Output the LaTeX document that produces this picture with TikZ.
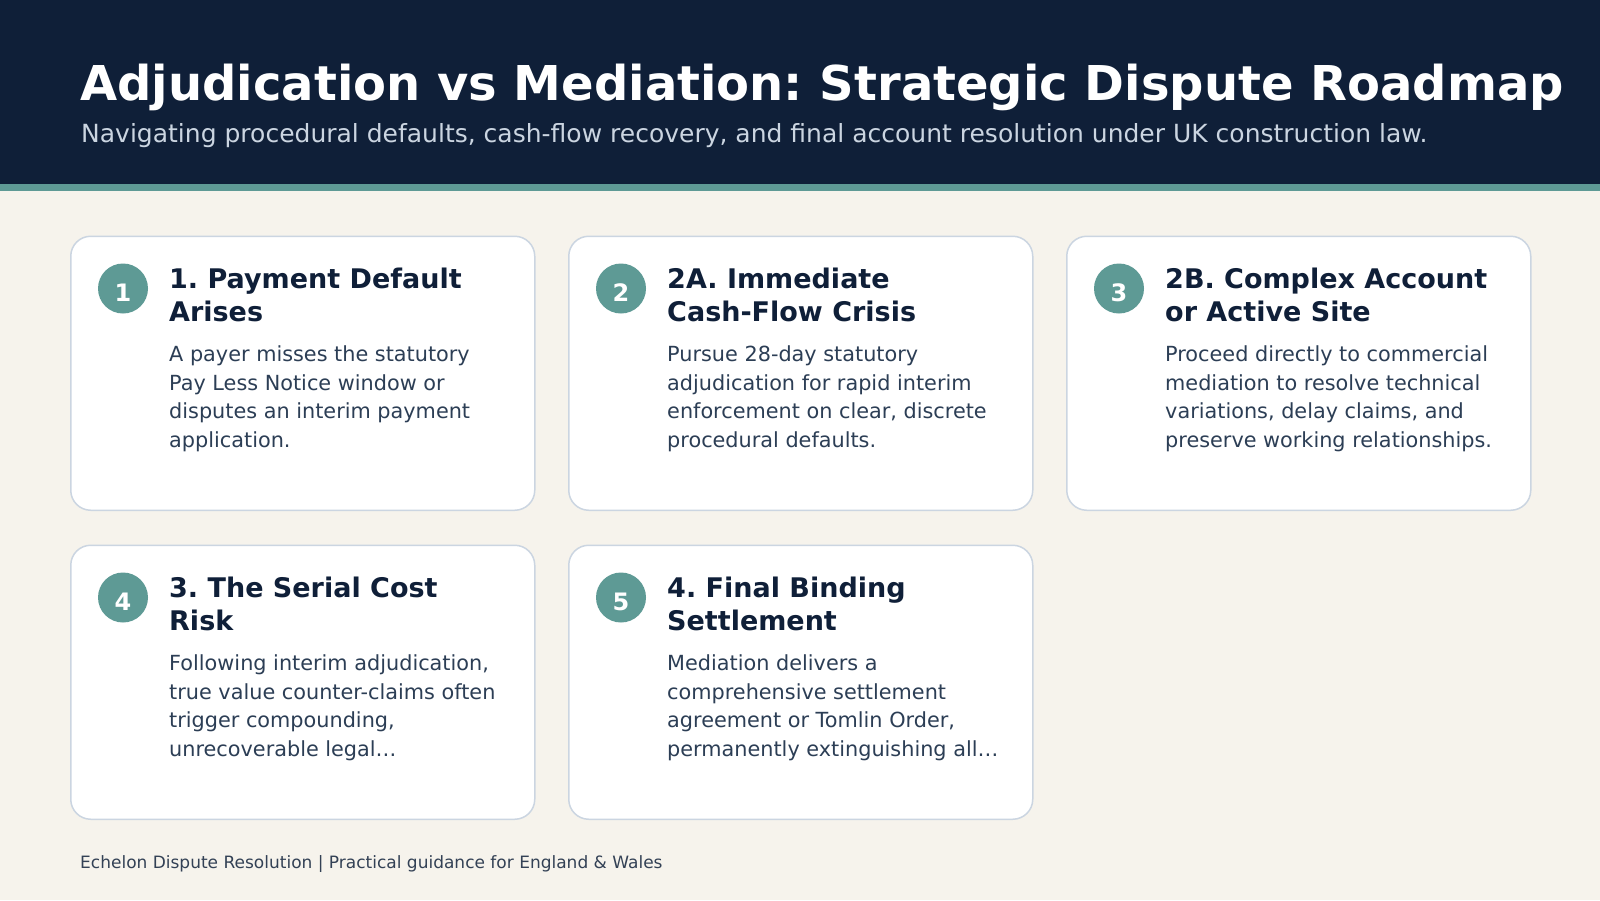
\documentclass[tikz,border=0pt]{standalone}
\usepackage{fontspec}
\setmainfont{DejaVu Sans}
\usetikzlibrary{positioning}

\definecolor{navy}{HTML}{0F1F38}
\definecolor{teal}{HTML}{5E9A95}
\definecolor{cream}{HTML}{F6F3EC}
\definecolor{cardline}{HTML}{CBD5E1}
\definecolor{subtext}{HTML}{CBD5E1}
\definecolor{slate}{HTML}{2C3E55}
\definecolor{foottext}{HTML}{334155}

\begin{document}
\frenchspacing
\begin{tikzpicture}[
  x=1pt, y=-1pt,
  card/.style={draw=cardline, line width=1.5pt, rounded corners=20pt, fill=white,
               minimum width=464pt, minimum height=274pt, anchor=north west, inner sep=0pt},
  badge/.style={circle, fill=teal, minimum size=50pt, inner sep=0pt, text=white,
                font=\fontsize{24}{24}\selectfont\bfseries, text height=25.5pt, text depth=0pt},
  head/.style={anchor=base west, align=left, inner sep=0pt, text=navy,
               font=\fontsize{27}{33.4}\selectfont\bfseries},
  body/.style={anchor=base west, align=left, inner sep=0pt, text=slate,
               font=\fontsize{20.8}{28.7}\selectfont},
]
\useasboundingbox (0,0) rectangle (1600,900);
\fill[cream] (0,0) rectangle (1600,900);
\fill[navy] (0,0) rectangle (1600,184);
\fill[teal] (0,184) rectangle (1600,191);

\node[anchor=base west, inner sep=0pt, text=white, font=\fontsize{48}{58}\selectfont\bfseries]
  (title) at (80,100) {Adjudication vs Mediation: Strategic Dispute Roadmap};
\node[anchor=base west, inner sep=0pt, text=subtext, font=\fontsize{25}{30}\selectfont]
  (subtitle) at (81,142.5) {Navigating procedural defaults, cash-flow recovery, and final account resolution under UK construction law.};

% top row
\node[card] (c1) at (70,235.5) {};
\node[card] (c2) at (568,235.5) {};
\node[card] (c3) at (1066,235.5) {};
% bottom row
\node[card] (c4) at (70,544.5) {};
\node[card] (c5) at (568,544.5) {};

\node[badge] (b1) at ([shift={(53,53)}]c1.north west) {1};
\node[head] (h1) at ([shift={(99,86.4)}]c1.north west) {1. Payment Default\\Arises};
\node[body] (t1) at ([shift={(99,212)}]c1.north west)
  {A payer misses the statutory\\Pay Less Notice window or\\disputes an interim payment\\application.};

\node[badge] (b2) at ([shift={(53,53)}]c2.north west) {2};
\node[head] (h2) at ([shift={(99,86.4)}]c2.north west) {2A. Immediate\\Cash-Flow Crisis};
\node[body] (t2) at ([shift={(99,212)}]c2.north west)
  {Pursue 28-day statutory\\adjudication for rapid interim\\enforcement on clear, discrete\\procedural defaults.};

\node[badge] (b3) at ([shift={(53,53)}]c3.north west) {3};
\node[head] (h3) at ([shift={(99,86.4)}]c3.north west) {2B. Complex Account\\or Active Site};
\node[body] (t3) at ([shift={(99,212)}]c3.north west)
  {Proceed directly to commercial\\mediation to resolve technical\\variations, delay claims, and\\preserve working relationships.};

\node[badge] (b4) at ([shift={(53,53)}]c4.north west) {4};
\node[head] (h4) at ([shift={(99,86.4)}]c4.north west) {3. The Serial Cost\\Risk};
\node[body] (t4) at ([shift={(99,212)}]c4.north west)
  {Following interim adjudication,\\true value counter-claims often\\trigger compounding,\\unrecoverable legal…};

\node[badge] (b5) at ([shift={(53,53)}]c5.north west) {5};
\node[head] (h5) at ([shift={(99,86.4)}]c5.north west) {4. Final Binding\\Settlement};
\node[body] (t5) at ([shift={(99,212)}]c5.north west)
  {Mediation delivers a\\comprehensive settlement\\agreement or Tomlin Order,\\permanently extinguishing all…};

\node[anchor=base west, inner sep=0pt, text=foottext, font=\fontsize{17}{20}\selectfont]
  (footer) at (80,868) {Echelon Dispute Resolution | Practical guidance for England \& Wales};
\end{tikzpicture}
\end{document}
